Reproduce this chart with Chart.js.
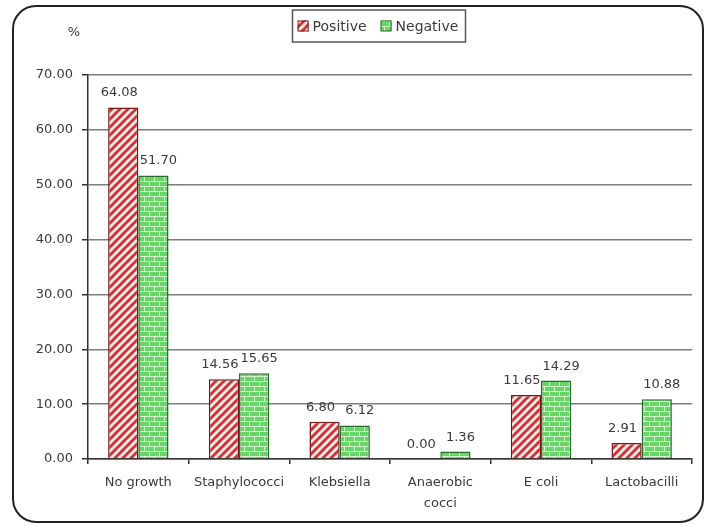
<!DOCTYPE html>
<html>
<head>
<meta charset="utf-8">
<script src="https://cdn.jsdelivr.net/npm/chart.js@4.4.1/dist/chart.umd.min.js"></script>
<style>
  html, body { margin: 0; padding: 0; background: #fff; }
  #frame {
    position: absolute; left: 12px; top: 5px;
    width: 692px; height: 518px; box-sizing: border-box;
    border: 2px solid #222; border-radius: 24px;
    overflow: hidden; background: #fff;
  }
</style>
</head>
<body>
<div id="frame"><canvas id="bars"></canvas></div>
<script>
const categories = ['No growth', 'Staphylococci', 'Klebsiella', ['Anaerobic', 'cocci'], 'E coli', 'Lactobacilli']
const positive = [64.08, 14.56, 6.80, 0.00, 11.65, 2.91]
const negative = [51.70, 15.65, 6.12, 1.36, 14.29, 10.88]
const seriesNames = ['Positive', 'Negative']
const yMin = 0, yMax = 70, yStep = 10
const yUnit = '%'

const FONT = 'DejaVu Sans, Liberation Sans, Arial, sans-serif'
const TEXT = '#3a3a3a'

// red diagonal hatch
function stripes() {
    let c = document.createElement('canvas')
    c.width = 8; c.height = 8
    let g = c.getContext('2d')
    g.fillStyle = '#fff4f4'
    g.fillRect(0, 0, 8, 8)
    g.strokeStyle = '#d63030'
    g.lineWidth = 3
    for (let k = 0; k <= 16; k += 8) {
        g.beginPath()
        g.moveTo(k - 9, 9)
        g.lineTo(k + 1, -1)
        g.stroke()
    }
    return g.createPattern(c, 'repeat')
}

// green brick
function bricks() {
    let c = document.createElement('canvas')
    c.width = 10; c.height = 10
    let g = c.getContext('2d')
    g.fillStyle = '#66d666'
    g.fillRect(0, 0, 10, 10)
    g.fillStyle = '#d2f5cc'
    g.fillRect(0, 4, 10, 1)
    g.fillRect(0, 9, 10, 1)
    g.fillRect(0, 0, 1, 4)
    g.fillRect(5, 5, 1, 4)
    return g.createPattern(c, 'repeat')
}

// value labels, nudged apart sideways so neighbours don't collide
const labelShift = [-4, 5]
const valueLabels = {
    id: 'valueLabels',
    afterDatasetsDraw(chart) {
        let ctx = chart.ctx
        ctx.save()
        ctx.font = '13px ' + FONT
        ctx.fillStyle = TEXT
        ctx.textAlign = 'center'
        ctx.textBaseline = 'alphabetic'
        chart.data.datasets.forEach((ds, i) => {
            chart.getDatasetMeta(i).data.forEach((bar, j) => {
                ctx.fillText(ds.data[j].toFixed(2), bar.x + labelShift[i], bar.y - 11)
            })
        })
        ctx.restore()
    }
}

const extras = {
    id: 'extras',
    afterDraw(chart) {
        let ctx = chart.ctx
        let area = chart.chartArea
        ctx.save()
        // unit label above the y axis
        ctx.font = '13px ' + FONT
        ctx.fillStyle = TEXT
        ctx.textAlign = 'center'
        ctx.textBaseline = 'middle'
        ctx.fillText(yUnit, area.left - 14, area.top - 42)

        // boxed legend
        ctx.font = '14px ' + FONT
        let sw = 11, gap = 4, between = 14, pad = 6
        let widths = seriesNames.map(n => ctx.measureText(n).width)
        let total = widths.reduce((a, b) => a + b, 0) + seriesNames.length * (sw + gap) + between
        let cx = (area.left + area.right) / 2 - 12
        let x = cx - total / 2
        let cy = area.top - 49
        ctx.strokeStyle = '#555'
        ctx.lineWidth = 1.5
        ctx.strokeRect(Math.round(x - pad) + 0.5, cy - 16, Math.round(total + pad * 2), 32)
        ctx.textAlign = 'left'
        chart.data.datasets.forEach((ds, i) => {
            ctx.fillStyle = ds.backgroundColor
            ctx.fillRect(x, cy - sw / 2, sw, sw)
            ctx.strokeStyle = ds.borderColor
            ctx.lineWidth = 1
            ctx.strokeRect(x + 0.5, cy - sw / 2 + 0.5, sw - 1, sw - 1)
            ctx.fillStyle = TEXT
            ctx.fillText(seriesNames[i], x + sw + gap, cy + 1)
            x += sw + gap + widths[i] + between
        })
        ctx.restore()
    }
}

document.addEventListener('DOMContentLoaded', () => {
    let canvas = document.querySelector('#bars')
    new Chart(canvas, {
        type: 'bar',
        data: {
            labels: categories,
            datasets: [{
                label: seriesNames[0],
                data: positive,
                backgroundColor: stripes(),
                borderColor: '#7a1414',
                borderWidth: 1.5
            }, {
                label: seriesNames[1],
                data: negative,
                backgroundColor: bricks(),
                borderColor: '#2a6a2a',
                borderWidth: 1.5
            }]
        },
        options: {
            responsive: true,
            maintainAspectRatio: false,
            animation: false,
            datasets: { bar: { categoryPercentage: 0.6, barPercentage: 1 } },
            layout: { padding: { top: 68, right: 10, left: 0, bottom: 0 } },
            plugins: {
                legend: { display: false },
                tooltip: { enabled: false }
            },
            scales: {
                x: {
                    afterFit: s => { s.height = 62 },
                    grid: { display: true, drawOnChartArea: false, offset: true, tickLength: 5, tickColor: '#333', lineWidth: 1.5 },
                    border: { display: true, color: '#333', width: 1.5 },
                    ticks: { color: TEXT, font: { family: FONT, size: 13, lineHeight: 1.6 }, padding: 8, maxRotation: 0, autoSkip: false }
                },
                y: {
                    min: yMin,
                    max: yMax,
                    afterFit: s => { s.width = 74 },
                    grid: { color: '#7d7d7d', lineWidth: 1.5, tickLength: 6, tickColor: '#333' },
                    border: { display: true, color: '#333', width: 1.5 },
                    ticks: {
                        stepSize: yStep,
                        color: TEXT,
                        padding: 9,
                        font: { family: FONT, size: 13 },
                        callback: v => v.toFixed(2)
                    }
                }
            }
        },
        plugins: [valueLabels, extras]
    })
})
</script>
</body>
</html>
